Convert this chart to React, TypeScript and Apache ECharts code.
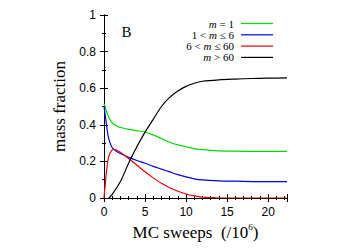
import React, { useEffect, useRef } from "react";
import * as echarts from "echarts";

const xM1 = [0, 0.5, 1, 1.5, 2, 3, 4, 5, 6, 7, 8, 9, 10, 11, 12, 14, 16, 18, 20, 22.3];
const yM1 = [0.515, 0.45, 0.41, 0.395, 0.385, 0.375, 0.368, 0.36, 0.345, 0.325, 0.305, 0.29, 0.28, 0.27, 0.264, 0.258, 0.256, 0.255, 0.255, 0.255];

const xM6 = [0, 0.25, 0.5, 0.75, 1, 1.5, 2, 3, 4, 5, 6, 7, 8, 9, 10, 11, 12, 14, 16, 18, 20, 22.3];
const yM6 = [0.5, 0.42, 0.34, 0.3, 0.275, 0.255, 0.243, 0.222, 0.205, 0.19, 0.173, 0.158, 0.143, 0.128, 0.115, 0.105, 0.099, 0.094, 0.092, 0.09, 0.089, 0.089];

const xM60 = [0, 0.2, 0.4, 0.6, 0.9, 1.2, 1.5, 2, 3, 4, 5, 6, 7, 8, 9, 10, 11, 12, 13, 14, 18, 22.3];
const yM60 = [0, 0.1, 0.18, 0.23, 0.258, 0.266, 0.262, 0.25, 0.216, 0.18, 0.143, 0.11, 0.08, 0.056, 0.037, 0.022, 0.012, 0.005, 0.002, 0, 0, 0];

const xBig = [0.6, 1, 2, 3, 4, 5, 6, 7, 8, 9, 10, 11, 12, 14, 16, 18, 20, 22.3];
const yBig = [0, 0.02, 0.09, 0.19, 0.28, 0.36, 0.43, 0.5, 0.55, 0.585, 0.61, 0.627, 0.638, 0.646, 0.65, 0.653, 0.655, 0.656];

const legendLabels = ["{i|m} = 1", "1 < {i|m} ≤ 6", "6 < {i|m} ≤ 60", "{i|m} > 60"];
const colors = ["#00dd00", "#0000ee", "#ee0000", "#000000"];
const seriesX = [xM1, xM6, xM60, xBig];
const seriesY = [yM1, yM6, yM60, yBig];
const panelLabel = "B";

const serif = "'Liberation Serif', 'Times New Roman', serif";
const sans = "'Liberation Sans', Arial, sans-serif";

export default function App() {
  const ref = useRef<HTMLDivElement>(null);
  useEffect(() => {
    if (!ref.current) return;
    const chart = echarts.init(ref.current, null, { renderer: "svg" });
    const left = 104, right = 287, top = 15, bottom = 198;

    const tickCommon = {
      axisLine: { show: true, lineStyle: { color: "#000", width: 1 } },
      axisTick: { show: true, inside: true, length: 4, lineStyle: { color: "#000" } },
      minorTick: { show: true, length: 2, lineStyle: { color: "#000" } },
      splitLine: { show: false },
    };

    const xBase = { type: "value", min: 0, max: 22.3, interval: 5, ...tickCommon, minorTick: { ...tickCommon.minorTick, splitNumber: 5 } };
    const yBase = { type: "value", min: 0, max: 1, interval: 0.2, ...tickCommon, minorTick: { ...tickCommon.minorTick, splitNumber: 2 } };

    const legendGraphics: any[] = [];
    const rowY = [23.5, 34.8, 46.1, 57.4];
    legendLabels.forEach((lab, i) => {
      legendGraphics.push({
        type: "text",
        x: 234,
        y: rowY[i],
        style: {
          text: lab,
          align: "right",
          verticalAlign: "middle",
          font: `11px ${serif}`,
          lineHeight: 10,
          fill: "#000",
          rich: { i: { fontStyle: "italic", fontFamily: serif, fontSize: 11, lineHeight: 10 } },
        },
      });
      legendGraphics.push({
        type: "line",
        shape: { x1: 241, y1: rowY[i], x2: 273, y2: rowY[i] },
        style: { stroke: colors[i], lineWidth: 1.2 },
      });
    });

    chart.setOption({
      animation: false,
      grid: { left, top, width: right - left, height: bottom - top },
      xAxis: [
        {
          ...xBase,
          position: "bottom",
          axisLabel: { fontFamily: sans, fontSize: 12, color: "#000", margin: 8, showMaxLabel: false },
          name: "{a|MC sweeps  (/10}{s|6}{a|)}",
          nameLocation: "middle",
          nameGap: 21,
          nameTextStyle: {
            rich: {
              a: { fontFamily: serif, fontSize: 17, color: "#000" },
              s: { fontFamily: serif, fontSize: 9, color: "#000", verticalAlign: "top", padding: [0, 0, 10, 0] },
            },
          },
        },
        { ...xBase, position: "top", axisLabel: { show: false } },
      ],
      yAxis: [
        {
          ...yBase,
          position: "left",
          axisLabel: {
            fontFamily: sans,
            fontSize: 12,
            color: "#000",
            margin: 8,
            formatter: (v: number) => String(Math.round(v * 10) / 10),
          },
          name: "mass fraction",
          nameLocation: "middle",
          nameGap: 36,
          nameTextStyle: { fontFamily: serif, fontSize: 17, color: "#000" },
        },
        { ...yBase, position: "right", axisLabel: { show: false } },
      ],
      series: seriesX.map((xs, i) => ({
        type: "line",
        xAxisIndex: 0,
        yAxisIndex: 0,
        data: xs.map((x, j) => [x, seriesY[i][j]]),
        showSymbol: false,
        smooth: 0.3,
        lineStyle: { color: colors[i], width: 1.2 },
        itemStyle: { color: colors[i] },
      })),
      graphic: [
        {
          type: "text",
          x: 126.5,
          y: 32,
          style: { text: panelLabel, align: "center", verticalAlign: "middle", font: `15px ${serif}`, fill: "#000" },
        },
        ...legendGraphics,
      ],
    });
    return () => chart.dispose();
  }, []);
  return <div ref={ref} style={{ width: 354, height: 248, position: "absolute", left: 0, top: 0 }} />;
}
